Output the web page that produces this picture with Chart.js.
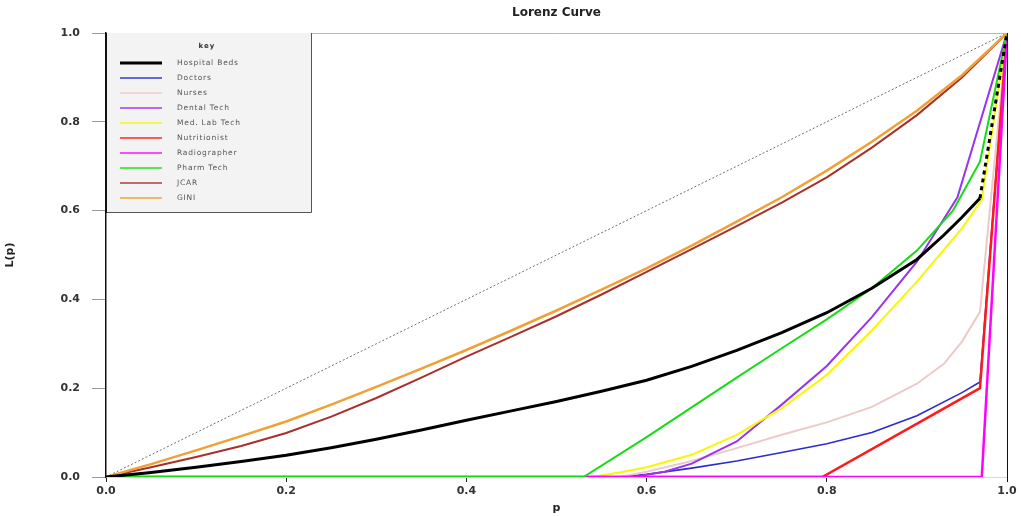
<!DOCTYPE html>
<html>
<head>
<meta charset="utf-8">
<script src="https://cdn.jsdelivr.net/npm/chart.js@4.4.1/dist/chart.umd.min.js"></script>
<style>
html,body{margin:0;padding:0;background:#fff;}
#wrap{width:1021px;height:516px;}
</style>
</head>
<body>
<div id="wrap"><canvas id="c" width="1021" height="516"></canvas></div>
<script>
// ---- data ----
const chartTitle = 'Lorenz Curve';
const xTitle = 'p';
const yTitle = 'L(p)';
const legendTitle = 'key';
const seriesNames = ['Hospital Beds','Doctors','Nurses','Dental Tech','Med. Lab Tech','Nutritionist','Radiographer','Pharm Tech','JCAR','GINI'];

const equalityP = [0, 1];
const equalityL = [0, 1];

const hospitalBedsP = [0,0.05,0.1,0.15,0.2,0.25,0.3,0.35,0.4,0.45,0.5,0.55,0.6,0.65,0.7,0.75,0.8,0.85,0.9,0.93,0.95,0.97,1];
const hospitalBedsL = [0,0.01,0.022,0.035,0.049,0.066,0.085,0.106,0.128,0.149,0.17,0.193,0.218,0.249,0.285,0.325,0.37,0.425,0.49,0.545,0.585,0.628,1];

const doctorsP = [0,0.57,0.6,0.65,0.7,0.75,0.8,0.85,0.9,0.95,0.97,1];
const doctorsL = [0,0,0.006,0.02,0.036,0.055,0.075,0.1,0.138,0.19,0.214,1];

const nursesP = [0,0.57,0.6,0.65,0.7,0.75,0.8,0.85,0.9,0.93,0.95,0.97,1];
const nursesL = [0,0,0.012,0.036,0.065,0.095,0.123,0.158,0.21,0.255,0.305,0.372,1];

const dentalTechP = [0,0.585,0.62,0.65,0.7,0.75,0.8,0.85,0.9,0.945,1];
const dentalTechL = [0,0,0.012,0.03,0.08,0.163,0.25,0.36,0.485,0.63,1];

const medLabTechP = [0,0.54,0.57,0.6,0.65,0.7,0.75,0.8,0.85,0.9,0.95,0.972,1];
const medLabTechL = [0,0,0.01,0.022,0.05,0.095,0.155,0.23,0.33,0.44,0.56,0.624,1];

const nutritionistP = [0,0.795,0.97,1];
const nutritionistL = [0,0,0.2,1];

const radiographerP = [0,0.972,1];
const radiographerL = [0,0,1];

const pharmTechP = [0,0.53,0.6,0.65,0.7,0.75,0.8,0.85,0.9,0.94,0.97,1];
const pharmTechL = [0,0,0.09,0.157,0.224,0.29,0.355,0.425,0.51,0.6,0.71,1];

const jcarP = [0,0.05,0.1,0.15,0.2,0.25,0.3,0.35,0.4,0.45,0.5,0.55,0.6,0.65,0.7,0.75,0.8,0.85,0.9,0.95,1];
const jcarL = [0,0.022,0.045,0.07,0.099,0.136,0.178,0.224,0.271,0.316,0.362,0.411,0.462,0.513,0.565,0.618,0.675,0.742,0.815,0.9,1];

const giniP = [0,0.05,0.1,0.15,0.2,0.25,0.3,0.35,0.4,0.45,0.5,0.55,0.6,0.65,0.7,0.75,0.8,0.85,0.9,0.95,1];
const giniL = [0,0.029,0.06,0.092,0.125,0.163,0.203,0.244,0.286,0.33,0.375,0.422,0.47,0.521,0.575,0.63,0.69,0.755,0.825,0.905,1];

const tickValues = [0,0.2,0.4,0.6,0.8,1.0];

// ---- styles ----
const seriesColors = ['#000000','#2b2bd0','#eccaca','#9933ee','#f7f700','#ff1a1a','#ff00ff','#14dd14','#a8302c','#f0a035'];
const seriesWidths = [3,1.6,2,2,2,2.5,2.5,2,2,2.5];

const pts = (P, L) => P.map((p, i) => ({x: p, y: L[i]}));
const seriesData = [
  pts(hospitalBedsP, hospitalBedsL),
  pts(doctorsP, doctorsL),
  pts(nursesP, nursesL),
  pts(dentalTechP, dentalTechL),
  pts(medLabTechP, medLabTechL),
  pts(nutritionistP, nutritionistL),
  pts(radiographerP, radiographerL),
  pts(pharmTechP, pharmTechL),
  pts(jcarP, jcarL),
  pts(giniP, giniL)
];

const datasets = [{
  label: 'Equality',
  data: pts(equalityP, equalityL),
  borderColor: '#707070',
  borderWidth: 1,
  borderDash: [2, 2],
  pointRadius: 0,
  order: 20,
  clip: 0,
  isEquality: true
}];
seriesNames.forEach((name, i) => {
  const ds = {
    label: name,
    data: seriesData[i],
    borderColor: seriesColors[i],
    borderWidth: seriesWidths[i],
    pointRadius: 0,
    tension: 0,
    clip: 0,
    order: seriesNames.length - i
  };
  if (i === 0) {
    ds.order = 0;
    ds.segment = { borderDash: ctx => ctx.p0DataIndex === hospitalBedsP.length - 2 ? [4, 4] : undefined };
  }
  datasets.push(ds);
});

const frameAndLegend = {
  id: 'frameAndLegend',
  afterDraw(chart) {
    const {ctx, chartArea: a} = chart;
    ctx.save();
    // chart title, centred over the plot region
    ctx.fillStyle = '#222';
    ctx.font = 'bold 12px "DejaVu Sans"';
    ctx.textAlign = 'center';
    ctx.textBaseline = 'middle';
    ctx.fillText(chartTitle, (a.left + a.right) / 2, 13);

    // top frame line
    ctx.strokeStyle = '#b8b8b8';
    ctx.lineWidth = 1;
    ctx.beginPath(); ctx.moveTo(a.left, a.top + 0.5); ctx.lineTo(a.right, a.top + 0.5); ctx.stroke();
    // right frame line
    ctx.strokeStyle = '#111';
    ctx.beginPath(); ctx.moveTo(a.right + 0.5, a.top); ctx.lineTo(a.right + 0.5, a.bottom + 5); ctx.stroke();

    // legend box
    const lx = a.left, ly = a.top, lw = 206, lh = 180;
    ctx.fillStyle = '#f3f3f3';
    ctx.fillRect(lx, ly, lw, lh);
    ctx.strokeStyle = '#555';
    ctx.beginPath();
    ctx.moveTo(lx + lw - 0.5, ly); ctx.lineTo(lx + lw - 0.5, ly + lh - 0.5); ctx.lineTo(lx, ly + lh - 0.5);
    ctx.stroke();
    ctx.strokeStyle = '#111';
    ctx.beginPath(); ctx.moveTo(lx + 0.5, ly); ctx.lineTo(lx + 0.5, ly + lh); ctx.stroke();

    ctx.fillStyle = '#333';
    ctx.font = 'bold 7px "DejaVu Sans"';
    if ('letterSpacing' in ctx) ctx.letterSpacing = '1px';
    ctx.textAlign = 'center';
    ctx.textBaseline = 'middle';
    ctx.fillText(legendTitle, lx + 101, ly + 13);

    ctx.textAlign = 'left';
    ctx.font = '7.5px "DejaVu Sans"';
    if ('letterSpacing' in ctx) ctx.letterSpacing = '0.8px';
    const items = chart.data.datasets.filter(d => !d.isEquality);
    items.forEach((d, i) => {
      const y = ly + 30 + i * 15;
      ctx.strokeStyle = d.borderColor;
      ctx.lineWidth = i === 0 ? 3 : 2;
      ctx.globalAlpha = i === 0 ? 1 : 0.7;
      ctx.beginPath(); ctx.moveTo(lx + 14, y); ctx.lineTo(lx + 56, y); ctx.stroke();
      ctx.globalAlpha = 1;
      ctx.fillStyle = '#555';
      ctx.fillText(d.label, lx + 71, y);
    });
    ctx.restore();
  }
};

new Chart(document.getElementById('c'), {
  type: 'line',
  data: { datasets },
  options: {
    responsive: false,
    devicePixelRatio: 1,
    animation: false,
    layout: { padding: { top: 33, right: 14, left: 0, bottom: 0 } },
    plugins: {
      legend: { display: false },
      tooltip: { enabled: false },
      title: { display: false }
    },
    scales: {
      x: {
        type: 'linear',
        min: 0, max: 1,
        afterBuildTicks: s => { s.ticks = tickValues.map(v => ({value: v})); },
        ticks: {
          callback: v => v.toFixed(1),
          color: '#333',
          font: { family: 'DejaVu Sans', size: 11, weight: 'bold' },
          padding: 3,
          maxRotation: 0
        },
        grid: { drawOnChartArea: false, drawTicks: true, tickLength: 5, color: '#222' },
        border: { display: true, color: '#d8d8d8', width: 1 },
        title: { display: true, text: xTitle, color: '#222', font: { family: 'DejaVu Sans', size: 11, weight: 'bold' }, padding: { top: 0, bottom: 1 } },
        afterFit: s => { s.height = 39; }
      },
      y: {
        type: 'linear',
        min: 0, max: 1,
        afterBuildTicks: s => { s.ticks = tickValues.map(v => ({value: v})); },
        ticks: {
          callback: v => v.toFixed(1),
          color: '#333',
          font: { family: 'DejaVu Sans', size: 11, weight: 'bold' },
          padding: 12
        },
        grid: { drawOnChartArea: false, drawTicks: true, tickLength: 14, color: '#999' },
        border: { display: true, color: '#111', width: 1.5 },
        title: { display: true, text: yTitle, color: '#222', font: { family: 'DejaVu Sans', size: 11, weight: 'bold' }, padding: { top: 4, bottom: 0 } },
        afterFit: s => { s.width = 106; }
      }
    }
  },
  plugins: [frameAndLegend]
});
</script>
</body>
</html>
